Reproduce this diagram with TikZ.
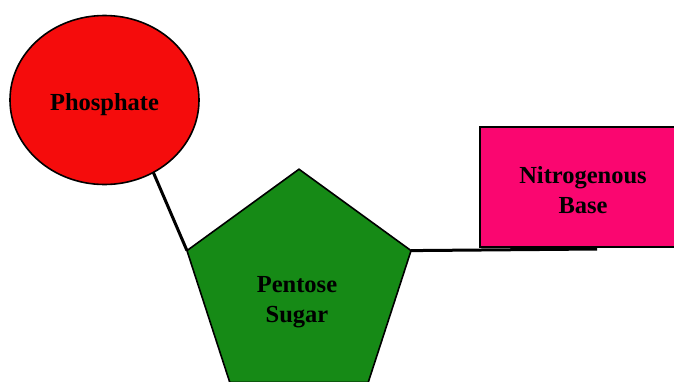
\documentclass[tikz,border=0pt]{standalone}
\usepackage{fontspec}
\setmainfont{Liberation Serif}
\usetikzlibrary{shapes.geometric}
\definecolor{phred}{RGB}{245,12,12}
\definecolor{sugargreen}{RGB}{22,138,22}
\definecolor{basepink}{RGB}{250,6,112}
\tikzset{
  part/.style={draw=black, line width=1.6pt, inner sep=0pt, outer sep=0pt},
  lbl/.style={font=\bfseries\fontsize{24.5}{30}\selectfont, text=black, align=center},
  bond/.style={draw=black, line width=3pt}
}
\begin{document}
\begin{tikzpicture}[x=1pt,y=-1pt]
\useasboundingbox (0,0) rectangle (674,381);
\node[part, ellipse, fill=phred, minimum width=189pt, minimum height=169pt] (ph) at (104.5,100) {};
\node[lbl] (phl) at (104.5,105) {Phosphate};
\node[part, regular polygon, regular polygon sides=5, fill=sugargreen, minimum size=235.6pt] (pent) at (299,287) {};
\node[lbl] (pentl) at (297,302) {Pentose\\Sugar};
\node[part, rectangle, fill=basepink, minimum width=206pt, minimum height=120pt] (base) at (583,187) {};
\node[lbl] (basel) at (583,190) {Nitrogenous\\Base};
\coordinate (bend) at (597,249);
\draw[bond] (ph.-56) -- (pent.corner 2);
\draw[bond] (pent.corner 5) -- (bend);
\end{tikzpicture}
\end{document}
